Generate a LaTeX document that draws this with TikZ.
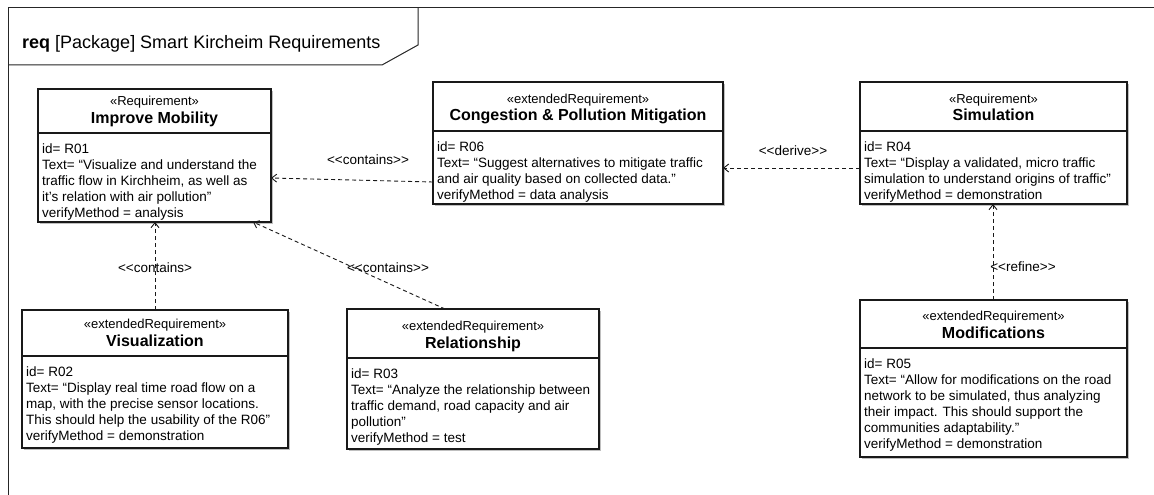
\documentclass[tikz,border=0pt]{standalone}
\usepackage{fontspec}
\setmainfont{Liberation Sans}
\usetikzlibrary{arrows.meta,shadows}

% double angle brackets without the TeX guillemet ligature
\newcommand\dlt{<\kern0pt<}
\newcommand\dgt{>\kern0pt>}

\tikzset{
  frameline/.style={draw=black!85, line width=1pt},
  reqbox/.style={draw=black!90, line width=1.1pt, fill=white, inner sep=0pt, outer sep=0pt,
    drop shadow={shadow xshift=2pt, shadow yshift=-2pt, fill=black, opacity=0.25}},
  boxline/.style={draw=black!90, line width=1.1pt},
  stereo/.style={anchor=base, inner sep=0pt, font=\fontsize{13}{15}\selectfont},
  reqtitle/.style={anchor=base, inner sep=0pt, font=\fontsize{16}{18}\selectfont\bfseries},
  bodytext/.style={anchor=north west, inner sep=0pt, align=left, font=\fontsize{13.5}{16}\selectfont},
  dep/.style={draw=black!90, line width=0.9pt, dash pattern=on 4pt off 3pt,
    -{Straight Barb[length=5pt,width=8pt]}},
  lbl/.style={inner sep=0pt, font=\fontsize{13.5}{16}\selectfont},
}

% requirement block: name, left, top, right, bottom, divider, stereotype, title, body
\newcommand\reqblock[9]{%
  \node[reqbox, anchor=north west, minimum width={#4-#2}, minimum height={#5-#3}] (#1) at (#2,#3) {};
  \draw[boxline] (#1.west |- 0,#6) -- (#1.east |- 0,#6);
  \node[stereo] (#1-st) at ({(#2+#4)/2},{#6-28}) {«#7»};
  \node[reqtitle] (#1-tt) at ({(#2+#4)/2},{#6-10}) {#8};
  \node[bodytext] (#1-bd) at ({#2+4},{#6+8.8}) {\strut #9};
}

\begin{document}
\begin{tikzpicture}[x=1pt,y=-1pt]
\useasboundingbox (0,0) rectangle (1154,495);
\begin{scope}
\clip (0,0) rectangle (1154,495);
\fill[white] (0,0) rectangle (1154,495);

% package frame with its name tab
\draw[frameline] (8,520) -- (8,8) -- (1170,8);
\draw[frameline] (8,65) -- (382,65) -- (418,45) -- (418,8);
\node[anchor=base west, inner sep=0pt, font=\fontsize{18}{20}\selectfont] (frametitle) at (22,48.5)
  {\textbf{req} [Package] Smart Kircheim Requirements};

% requirements
\reqblock{r01}{38}{89}{271}{222}{133}{Requirement}{Improve Mobility}
  {id= R01\\Text= “Visualize and understand the\\traffic flow in Kirchheim, as well as\\it’s relation with air pollution”\\verifyMethod = analysis}
\reqblock{r06}{433}{82}{723}{204}{131}{extendedRequirement}{Congestion \& Pollution Mitigation}
  {id= R06\\Text= “Suggest alternatives to mitigate traffic\\and air quality based on collected data.”\\verifyMethod = data analysis}
\reqblock{r04}{860}{82}{1127}{204}{131}{Requirement}{Simulation}
  {id= R04\\Text= “Display a validated, micro traffic\\simulation to understand origins of traffic”\\verifyMethod = demonstration}
\reqblock{r02}{22}{310}{288}{448}{356}{extendedRequirement}{Visualization}
  {id= R02\\Text= “Display real time road flow on a\\map, with the precise sensor locations.\\This should help the usability of the R06”\\verifyMethod = demonstration}
\reqblock{r03}{347}{309}{599}{449}{358}{extendedRequirement}{Relationship}
  {id= R03\\Text= “Analyze the relationship between\\traffic demand, road capacity and air\\pollution”\\verifyMethod = test}
\reqblock{r05}{860}{300}{1127}{457}{348}{extendedRequirement}{Modifications}
  {id= R05\\Text= “Allow for modifications on the road\\network to be simulated, thus analyzing\\their impact. This should support the\\communities adaptability.”\\verifyMethod = demonstration}

% relationships
\draw[dep] (r06.west |- 0,182) -- (r01.east |- 0,178);
\draw[dep] (r04.west |- 0,168) -- (r06.east |- 0,168);
\draw[dep] (r02.north -| 155,0) -- (r01.south -| 155,0);
\draw[dep] (r03.north -| 445,0) -- (r01.south -| 253,0);
\draw[dep] (r05.north -| 993,0) -- (r04.south -| 993,0);

\node[lbl] (lc1) at (368,160) {\dlt contains\dgt};
\node[lbl] (ld) at (793,151) {\dlt derive\dgt};
\node[lbl] (lc2) at (155,268) {\dlt contains>};
\node[lbl] (lc3) at (388,268) {\dlt contains\dgt};
\node[lbl] (lr) at (1023,267) {\dlt refine\dgt};
\end{scope}
\end{tikzpicture}
\end{document}
